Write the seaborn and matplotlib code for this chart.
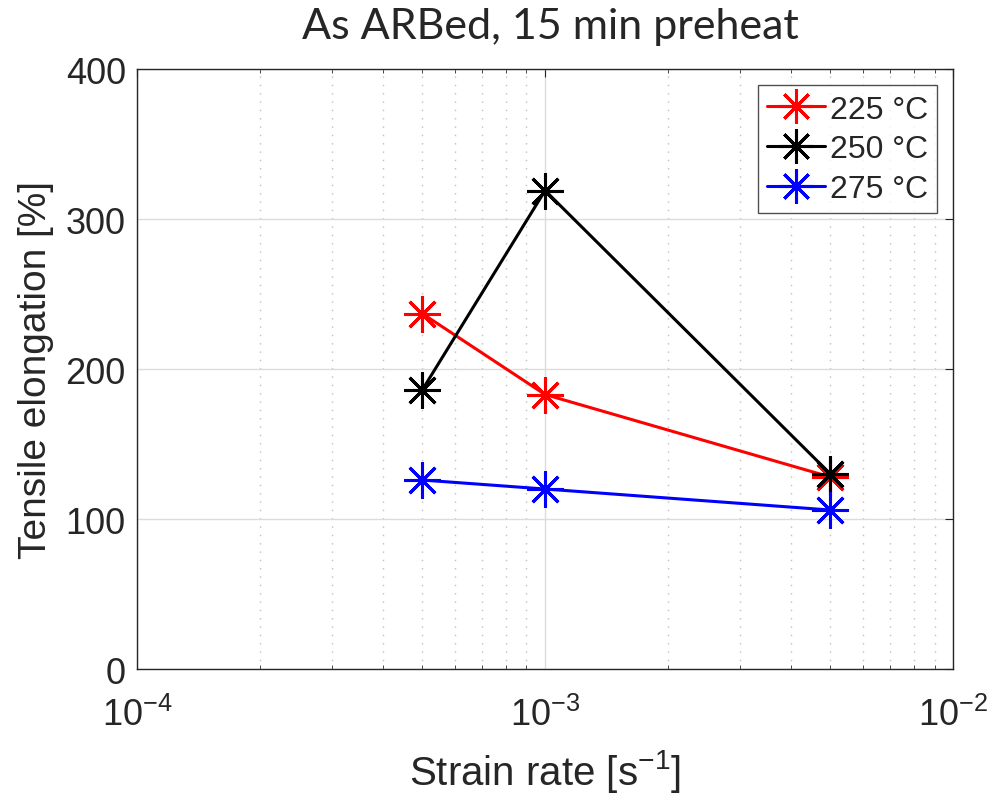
import matplotlib
matplotlib.use("Agg")
import matplotlib.pyplot as plt
import seaborn as sns
import pandas as pd
from matplotlib.ticker import LogLocator, NullFormatter, FuncFormatter
import numpy as np

strain_rate = [5e-4, 1e-3, 5e-3]
elong_225 = [237, 183, 128]
elong_250 = [186, 319, 130]
elong_275 = [126, 120, 106]
labels = ["225 °C", "250 °C", "275 °C"]
colors = ["#ff0000", "#000000", "#0000ff"]

df = pd.DataFrame({
    "rate": strain_rate * 3,
    "elong": elong_225 + elong_250 + elong_275,
    "temp": [labels[0]] * 3 + [labels[1]] * 3 + [labels[2]] * 3,
})

sns.set_style("white")
plt.rcParams['font.family'] = ['Liberation Sans', 'DejaVu Sans']
plt.rcParams['mathtext.fontset'] = 'custom'
plt.rcParams['mathtext.rm'] = 'Liberation Sans'
plt.rcParams['mathtext.it'] = 'Liberation Sans'

fig = plt.figure(figsize=(9.92, 8.03), dpi=100)
ax = fig.add_axes([0.138, 0.1656, 0.823, 0.7472])

sns.lineplot(data=df, x="rate", y="elong", hue="temp", palette=dict(zip(labels, colors)),
             marker=(8, 2, 0), markersize=26, markeredgewidth=2.2, linewidth=2.2,
             ax=ax, legend=False, zorder=3)
for line in ax.lines:
    line.set_markeredgecolor(line.get_color())
    line.set_markerfacecolor(line.get_color())

ax.set_xscale("log")
ax.set_xlim(1e-4, 1e-2)
ax.set_ylim(0, 400)
ax.set_yticks([0, 100, 200, 300, 400])
ax.xaxis.set_major_locator(LogLocator(base=10, numticks=10))
ax.xaxis.set_minor_locator(LogLocator(base=10, subs=range(2, 10), numticks=20))
ax.xaxis.set_minor_formatter(NullFormatter())
ax.xaxis.set_major_formatter(FuncFormatter(lambda v, p: "10$^{\\mathrm{%d}}$" % int(round(np.log10(v)))))

ax.grid(True, which="major", axis="both", color="#dcdcdc", linewidth=1.0, linestyle="-")
ax.grid(True, which="minor", axis="x", color="#c0c0c0", linewidth=1.0, linestyle=(0, (1, 5)))
ax.set_axisbelow(True)

for s in ax.spines.values():
    s.set_visible(True)
    s.set_color("#262626")
    s.set_linewidth(1.0)

ax.tick_params(axis="both", which="major", direction="in", length=6, labelsize=26,
               colors="#262626", pad=8, top=True, right=True)
ax.tick_params(axis="x", which="minor", direction="in", length=3, top=True, bottom=True)
ax.tick_params(axis="x", which="major", pad=20)

ax.set_xlabel("Strain rate [s$^{\\mathrm{-1}}$]", fontsize=29, color="#262626", labelpad=10)
ax.set_ylabel("Tensile elongation [%]", fontsize=28, color="#262626", labelpad=8)

fig.suptitle("As ARBed, 15 min preheat", fontsize=31, family=["Lato", "DejaVu Sans"],
             y=0.99, x=0.555)

handles = ax.lines[:3]
leg = ax.legend(handles, labels, loc="upper right", fontsize=23, frameon=True, fancybox=False,
                edgecolor="#262626", handlelength=1.8, handletextpad=0.15,
                borderpad=0.3, labelspacing=0.3, borderaxespad=0.5, markerscale=0.95)
leg.get_frame().set_linewidth(1.0)

fig.savefig("out.png", dpi=100)
